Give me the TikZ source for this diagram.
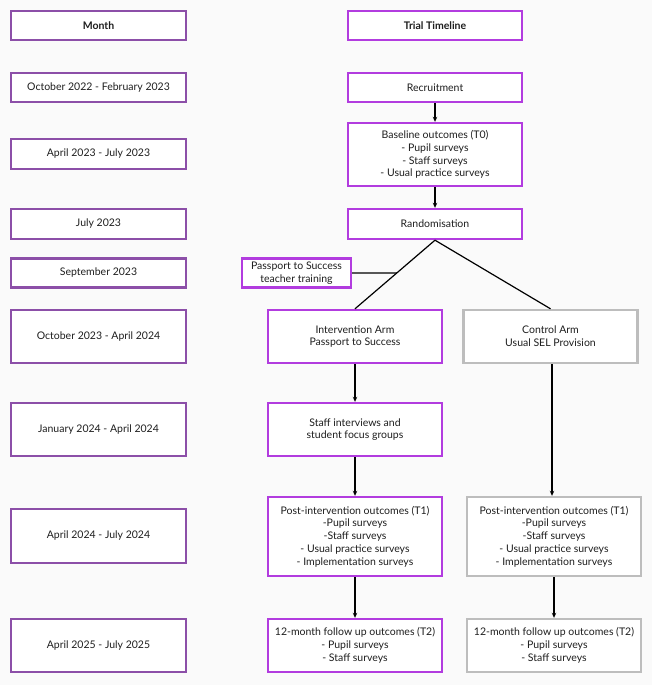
\documentclass[tikz,border=0pt]{standalone}
\usepackage{fontspec}
\setmainfont{Lato}
\usetikzlibrary{arrows.meta,calc}
\definecolor{monthc}{HTML}{8C4FA8}
\definecolor{trialc}{HTML}{B23CDF}
\definecolor{ctrlc}{HTML}{BDBDBD}
\definecolor{bgc}{HTML}{FAFAFA}
\definecolor{txtc}{HTML}{1E1E1E}
\tikzset{
  base/.style={draw, line width=2.4pt, fill=white, align=center, text=txtc, inner sep=1pt,
    font=\fontsize{10.5}{12.7}\selectfont},
  mbox/.style={base, draw=monthc, minimum width=175pt},
  tbox/.style={base, draw=trialc, minimum width=174pt},
  cbox/.style={base, draw=ctrlc, minimum width=174pt},
  arr/.style={line width=1.2pt, -{Stealth[length=5pt,width=4.5pt]}},
  ln/.style={line width=1.2pt}
}
\begin{document}
\begin{tikzpicture}[x=1pt,y=-1pt]
\fill[bgc] (0,0) rectangle (652,685);
\useasboundingbox (0,0) rectangle (652,685);
% left column
\node[mbox, minimum height=29pt, font=\fontsize{10.5}{12.7}\selectfont\bfseries] (month) at (98.5,25.5) {Month};
\node[mbox, minimum height=29pt] (m1) at (98.5,87.5) {October 2022 - February 2023};
\node[mbox, minimum height=30pt] (m2) at (98.5,154) {April 2023 - July 2023};
\node[mbox, minimum height=30pt] (m3) at (98.5,224) {July 2023};
\node[mbox, minimum height=29pt] (m4) at (98.5,273) {September 2023};
\node[mbox, minimum height=53pt] (m5) at (98.5,336.5) {October 2023 - April 2024};
\node[mbox, minimum height=53pt] (m6) at (98.5,429.5) {January 2024 - April 2024};
\node[mbox, minimum height=54pt] (m7) at (98.5,536) {April 2024 - July 2024};
\node[mbox, minimum height=53pt] (m8) at (98.5,645.5) {April 2025 - July 2025};
% timeline
\node[tbox, minimum height=29pt, font=\fontsize{10.5}{12.7}\selectfont\bfseries] (trial) at (435,25.5) {Trial Timeline};
\node[tbox, minimum height=29pt] (t1) at (435,87.5) {Recruitment};
\node[tbox, minimum height=63pt] (t2) at (435,154.5) {Baseline outcomes (T0)\\- Pupil surveys\\- Staff surveys\\- Usual practice surveys};
\node[tbox, minimum height=30pt] (t3) at (435,224) {Randomisation};
\node[tbox, minimum width=109pt, minimum height=29pt, inner sep=0pt] (train) at (296.5,273) {Passport to Success\\teacher training};
\node[tbox, minimum height=53pt] (iarm) at (355,336.5) {Intervention Arm\\Passport to Success};
\node[cbox, minimum height=53pt] (carm) at (550.5,336.5) {Control Arm\\Usual SEL Provision};
\node[tbox, minimum height=53pt] (staff) at (355,429.5) {Staff interviews and\\student focus groups};
\node[tbox, minimum height=79pt] (ipost) at (355,536.5) {Post-intervention outcomes (T1)\\-Pupil surveys\\-Staff surveys\\- Usual practice surveys\\- Implementation surveys};
\node[cbox, minimum height=79pt] (cpost) at (554,536.5) {Post-intervention outcomes (T1)\\-Pupil surveys\\-Staff surveys\\- Usual practice surveys\\- Implementation surveys};
\node[tbox, minimum height=53pt] (ifol) at (355,645.5) {12-month follow up outcomes (T2)\\- Pupil surveys\\- Staff surveys};
\node[cbox, minimum height=53pt] (cfol) at (554,645.5) {12-month follow up outcomes (T2)\\- Pupil surveys\\- Staff surveys};
% connectors
\draw[arr] (t1.south) -- (t2.north);
\draw[arr] (t2.south) -- (t3.north);
\draw[ln] (t3.south) -- (iarm.north);
\draw[ln] (t3.south) -- (carm.north);
\draw[ln] (train.east) -- (intersection of t3.south--iarm.north and train.east--train.west);
\draw[arr] (iarm.south) -- (staff.north);
\draw[arr] (staff.south) -- (ipost.north);
\draw[arr] ([xshift=1.5pt]carm.south) -- ([xshift=-2pt]cpost.north);
\draw[arr] (ipost.south) -- (ifol.north);
\draw[arr] (cpost.south) -- (cfol.north);
\end{tikzpicture}
\end{document}
